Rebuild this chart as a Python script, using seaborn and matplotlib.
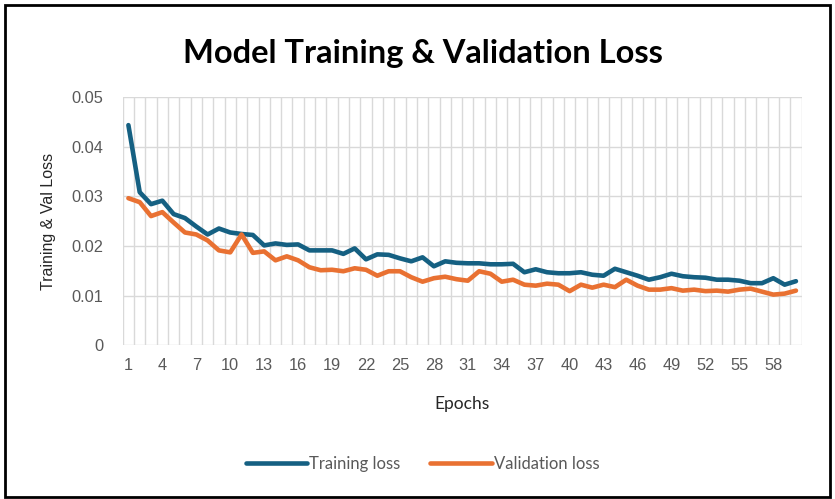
import numpy as np
import pandas as pd
import matplotlib
matplotlib.use("Agg")
import matplotlib.pyplot as plt
from matplotlib.patches import Rectangle
import seaborn as sns

# ── data ─────────────────────────────────────────────────────
epochs = list(range(1, 61))
training_loss = [
    0.0443, 0.0308, 0.0284, 0.0291, 0.0264, 0.0256, 0.0239, 0.0223, 0.0235, 0.0227,
    0.0224, 0.0222, 0.0201, 0.0205, 0.0202, 0.0203, 0.0191, 0.0191, 0.0191, 0.0184,
    0.0195, 0.0173, 0.0183, 0.0182, 0.0175, 0.0169, 0.0177, 0.0159, 0.0169, 0.0166,
    0.0165, 0.0165, 0.0163, 0.0163, 0.0164, 0.0147, 0.0153, 0.0147, 0.0145, 0.0145,
    0.0147, 0.0142, 0.0140, 0.0154, 0.0147, 0.0140, 0.0132, 0.0137, 0.0144, 0.0139,
    0.0137, 0.0136, 0.0132, 0.0132, 0.0130, 0.0125, 0.0125, 0.0135, 0.0122, 0.0129,
]
validation_loss = [
    0.0296, 0.0288, 0.0260, 0.0268, 0.0247, 0.0227, 0.0223, 0.0211, 0.0191, 0.0187,
    0.0223, 0.0186, 0.0189, 0.0171, 0.0179, 0.0171, 0.0157, 0.0151, 0.0152, 0.0149,
    0.0155, 0.0152, 0.0140, 0.0149, 0.0149, 0.0137, 0.0128, 0.0135, 0.0138, 0.0133,
    0.0130, 0.0149, 0.0144, 0.0128, 0.0132, 0.0122, 0.0120, 0.0124, 0.0122, 0.0109,
    0.0122, 0.0116, 0.0122, 0.0117, 0.0132, 0.0120, 0.0112, 0.0112, 0.0115, 0.0110,
    0.0112, 0.0109, 0.0110, 0.0108, 0.0112, 0.0114, 0.0108, 0.0102, 0.0104, 0.0110,
]
series_names = ["Training loss", "Validation loss"]
series_colors = ["#156082", "#E97132"]
y_ticks = [0, 0.01, 0.02, 0.03, 0.04, 0.05]
y_tick_labels = ["0", "0.01", "0.02", "0.03", "0.04", "0.05"]
x_tick_epochs = list(range(1, 61, 3))

df = pd.DataFrame({
    "Epoch": epochs * 2,
    "Loss": training_loss + validation_loss,
    "Series": [series_names[0]] * len(epochs) + [series_names[1]] * len(epochs),
})

sns.set_style("white")
plt.rcParams["font.family"] = ["Liberation Sans", "DejaVu Sans"]

fig = plt.figure(figsize=(8.35, 4.99), dpi=100)
ax = fig.add_axes([0.147, 0.308, 0.813, 0.498])

sns.lineplot(data=df, x="Epoch", y="Loss", hue="Series",
             palette=dict(zip(series_names, series_colors)),
             linewidth=3.3, ax=ax, legend=False,
             solid_capstyle="round", solid_joinstyle="round", zorder=3)

# grid: horizontal at value ticks, vertical between categories (Excel style)
grid_c = "#d9d9d9"
for v in y_ticks:
    ax.axhline(v, color=grid_c, lw=1.0, zorder=1)
for b in np.arange(0.5, 61.0, 1.0):
    ax.axvline(b, color=grid_c, lw=1.0, zorder=1)

ax.set_xlim(0.5, 60.5)
ax.set_ylim(0, 0.05)
ax.set_yticks(y_ticks)
ax.set_yticklabels(y_tick_labels)
ax.set_xticks(x_tick_epochs)
ax.set_xticklabels([str(e) for e in x_tick_epochs])
ax.tick_params(axis="both", length=0, labelsize=11.8, labelcolor="#595959")
ax.tick_params(axis="y", pad=14)
ax.tick_params(axis="x", pad=9)
for s in ax.spines.values():
    s.set_visible(False)

ax.set_xlabel("Epochs", fontsize=12.5, color="#262626", family=["Lato", "DejaVu Sans"],
              labelpad=17)
ax.set_ylabel("Training & Val Loss", fontsize=11.5, color="#262626", labelpad=11)

fig.text(0.507, 0.893, "Model Training & Validation Loss", ha="center", va="center",
         fontsize=23.5, fontweight="bold", color="#000000", family=["Lato", "DejaVu Sans"])

handles = [plt.Line2D([0], [0], color=c, lw=3.3, solid_capstyle="round") for c in series_colors]
fig.legend(handles, series_names, loc="center", bbox_to_anchor=(0.506, 0.071), ncol=2,
           frameon=False, handlelength=3.7, handletextpad=0.1, columnspacing=1.8,
           prop={"family": ["Lato", "DejaVu Sans"], "size": 12}, labelcolor="#595959")

# chart frame
fig.patches.append(Rectangle((0.006, 0.004), 0.988, 0.986, transform=fig.transFigure,
                             fill=False, edgecolor="black", lw=2))

fig.savefig("out.png", dpi=100)
